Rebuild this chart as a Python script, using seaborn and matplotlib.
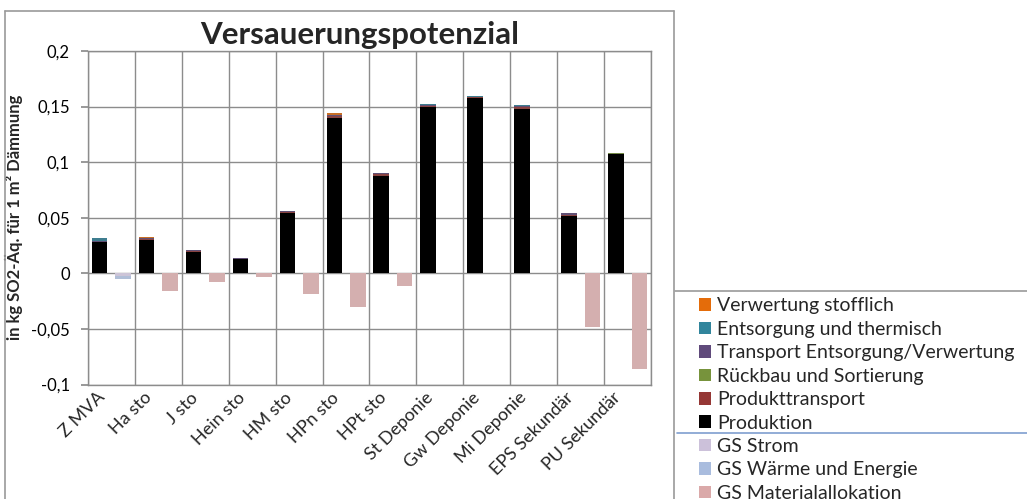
import numpy as np
import pandas as pd
import matplotlib
matplotlib.use("Agg")
import matplotlib.pyplot as plt
import seaborn as sns
from matplotlib.patches import Patch
from matplotlib.lines import Line2D
from matplotlib.ticker import FuncFormatter
import matplotlib.transforms as mtransforms

# ----------------------------
# DATA
# ----------------------------
categories = ["Z MVA", "Ha sto", "J sto", "Hein sto", "HM sto", "HPn sto",
              "HPt sto", "St Deponie", "Gw Deponie", "Mi Deponie",
              "EPS Sekundär", "PU Sekundär"]

produktion       = [0.028, 0.030, 0.019, 0.0125, 0.054, 0.140, 0.088, 0.1495, 0.158, 0.148, 0.052, 0.1075]
produkttransport = [0.0003, 0.0008, 0.0008, 0.0005, 0.0008, 0.0012, 0.0012, 0.0008, 0.0003, 0.0012, 0.0005, 0.0002]
rueckbau         = [0.0001, 0.0001, 0.0001, 0.0001, 0.0001, 0.0001, 0.0001, 0.0001, 0.0001, 0.0001, 0.0001, 0.0001]
transport_ev     = [0.0004, 0.0010, 0.0010, 0.0003, 0.0010, 0.0010, 0.0007, 0.0012, 0.0006, 0.0014, 0.0014, 0.0003]
entsorgung       = [0.0030, 0.0, 0.0, 0.0, 0.0, 0.0, 0.0, 0.0004, 0.0007, 0.0004, 0.0002, 0.0]
verwertung       = [0.0, 0.0004, 0.0003, 0.0005, 0.0003, 0.0015, 0.0006, 0.0, 0.0, 0.0, 0.0, 0.0]

gs_strom    = [-0.0025, 0.0, 0.0, 0.0, 0.0, 0.0, 0.0, 0.0, 0.0, 0.0, 0.0, 0.0]
gs_waerme   = [-0.0025, 0.0, 0.0, 0.0, 0.0, 0.0, 0.0, 0.0, 0.0, 0.0, 0.0, 0.0]
gs_material = [0.0, -0.016, -0.008, -0.0036, -0.019, -0.030, -0.0114, 0.0, 0.0, 0.0, -0.048, -0.086]

yticks = [-0.1, -0.05, 0.0, 0.05, 0.1, 0.15, 0.2]

pos_names = ["Produktion", "Produkttransport", "Rückbau und Sortierung",
             "Transport Entsorgung/Verwertung", "Entsorgung und thermisch",
             "Verwertung stofflich"]
pos_values = [produktion, produkttransport, rueckbau, transport_ev, entsorgung, verwertung]
pos_colors = ["#000000", "#953735", "#77933C", "#604A7B", "#31859C", "#E46C0A"]

neg_names = ["GS Strom", "GS Wärme und Energie", "GS Materialallokation"]
neg_values = [gs_strom, gs_waerme, gs_material]
neg_colors = ["#CCC1DA", "#A9BCDE", "#DAA9A9"]

# ----------------------------
# STYLE
# ----------------------------
sns.set_theme(style="white")
plt.rcParams["font.family"] = ["Lato", "DejaVu Sans"]
GRID = "#8C8C8C"

W, H = 1027, 499
fig = plt.figure(figsize=(W / 100, H / 100), dpi=100)
ax = fig.add_axes([88 / W, 1 - 384.5 / H, (651 - 88) / W, (384.5 - 51) / H])


def draw_stack(values, colors, side):
    # cumulative overlay: largest sum first, then smaller ones on top
    cum = np.cumsum(np.array(values), axis=0)
    for k in range(len(values) - 1, -1, -1):
        df = pd.DataFrame({"Kategorie": categories, "Wert": cum[k], "Seite": side})
        sns.barplot(data=df, x="Kategorie", y="Wert", hue="Seite",
                    hue_order=["pos", "neg"], order=categories,
                    palette={"pos": colors[k], "neg": colors[k]},
                    width=1.0, gap=0.34, dodge=True, linewidth=0,
                    errorbar=None, legend=False, ax=ax, zorder=3)


draw_stack(pos_values, pos_colors, "pos")
draw_stack(neg_values, neg_colors, "neg")

# ----------------------------
# AXES
# ----------------------------
ax.set_xlim(-0.5, len(categories) - 0.5)
ax.set_ylim(-0.1, 0.2)
ax.set_yticks(yticks)
ax.yaxis.set_major_formatter(FuncFormatter(
    lambda v, _: (f"{round(v, 3) + 0.0:g}").replace(".", ",")))
# gridlines: horizontal at every y tick, vertical between the categories
ax.hlines(yticks, -0.5, len(categories) - 0.5, colors=GRID, linewidth=1.0,
          zorder=2)
ax.vlines(np.arange(-0.5, len(categories), 1), -0.1, 0.2, colors=GRID,
          linewidth=1.0, zorder=2)
for s in ax.spines.values():
    s.set_color(GRID)
    s.set_linewidth(1.0)

ax.tick_params(axis="y", which="major", left=True, length=5, color=GRID,
               labelsize=12, pad=8, labelcolor="#000000")
ax.tick_params(axis="x", which="both", bottom=False, length=0)
ax.set_xticks(range(len(categories)))
ax.set_xticklabels(categories, rotation=45, ha="right", rotation_mode="anchor",
                   fontsize=13)
offset = mtransforms.ScaledTranslation(-15 / 100, 0, fig.dpi_scale_trans)
for lab in ax.get_xticklabels():
    lab.set_transform(lab.get_transform() + offset)

ax.set_xlabel("")
ax.set_ylabel("in kg SO2-Äq. für 1 m² Dämmung", fontsize=12, fontweight="bold")
ax.yaxis.set_label_coords(-(88 - 14) / (651 - 88), 0.5)
ax.yaxis.label.set_va("center")

fig.text(360 / W, 1 - 35 / H, "Versauerungspotenzial", ha="center", va="center",
         fontsize=22.5, fontweight="bold")

# ----------------------------
# CHART / LEGEND FRAMES
# ----------------------------
def fline(x0, y0, x1, y1, color="#9A9A9A", lw=1.2):
    fig.add_artist(Line2D([x0 / W, x1 / W], [1 - y0 / H, 1 - y1 / H],
                          color=color, lw=lw, transform=fig.transFigure))


fline(5, 11, 674, 11)
fline(5, 11, 5, H + 2)
fline(674, 11, 674, H + 2)
fline(675, 291, W + 2, 291)
fline(677, 433, W + 2, 433, color="#7F9ECF", lw=1.2)

handles = [Patch(facecolor=c, edgecolor="none") for c in pos_colors[::-1] + neg_colors]
labels = pos_names[::-1] + neg_names
fig.legend(handles, labels, loc="upper left",
           bbox_to_anchor=(699 / W, 1 - 297.5 / H), frameon=False, fontsize=14,
           handlelength=0.62, handleheight=0.62, handletextpad=0.31,
           labelspacing=0.33, borderpad=0, borderaxespad=0)

fig.savefig("out.png", dpi=100)
